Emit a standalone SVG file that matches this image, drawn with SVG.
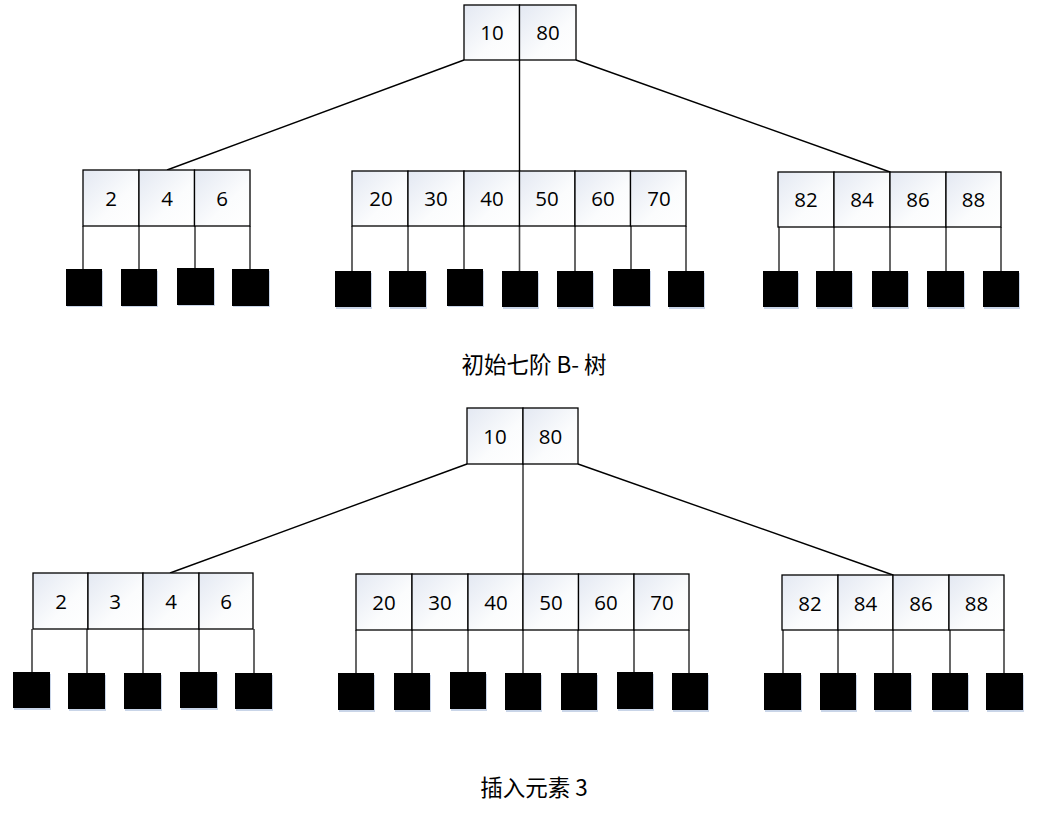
<svg xmlns="http://www.w3.org/2000/svg" width="1045" height="814" viewBox="0 0 1045 814">
<defs>
<linearGradient id="cg" x1="0" y1="0" x2="1" y2="1">
<stop offset="0" stop-color="#e3e8f2"/>
<stop offset="0.6" stop-color="#fbfcfd"/>
<stop offset="1" stop-color="#ffffff"/>
</linearGradient>
</defs>
<style>
.cell{fill:url(#cg);stroke:#000;stroke-width:1.3}
.num{font-family:"Open Sans","Liberation Sans",sans-serif;font-size:20.5px;fill:#000;text-anchor:middle}
.leaf{fill:#000}
.sh{fill:#c9d5e8}
.stem{stroke:#404040;stroke-width:1.6;fill:none}
.edge{stroke:#000;stroke-width:1.4;fill:none}
.cap{font-family:"Noto Sans CJK SC","Noto Sans",sans-serif;font-size:22.5px;fill:#000;text-anchor:middle}
</style>
<rect width="1045" height="814" fill="#fff"/>

<g id="connectors">
<line class="edge" x1="464" y1="60" x2="167" y2="170"/>
<line class="edge" x1="519.5" y1="60" x2="519.5" y2="171"/>
<line class="edge" x1="576" y1="60" x2="890" y2="172"/>
<line class="edge" x1="467" y1="464" x2="170" y2="573"/>
<line class="stem" x1="523" y1="464" x2="523" y2="574"/>
<line class="edge" x1="578" y1="464" x2="893" y2="575"/>
</g>

<!-- ===== Top tree ===== -->
<g id="root1">
<rect class="cell" x="464" y="5" width="55.5" height="55"/>
<rect class="cell" x="519.5" y="5" width="56.5" height="55"/>
<text class="num" x="492" y="39.5">10</text>
<text class="num" x="548" y="39.5">80</text>
</g>

<g id="left1">
<line class="stem" x1="83" y1="226" x2="83" y2="270"/>
<line class="stem" x1="139" y1="226" x2="139" y2="270"/>
<line class="stem" x1="195" y1="226" x2="195" y2="269"/>
<line class="stem" x1="250" y1="226" x2="250" y2="270"/>
<rect class="cell" x="83" y="170" width="56" height="56"/>
<rect class="cell" x="139" y="170" width="55.5" height="56"/>
<rect class="cell" x="194.5" y="170" width="55.5" height="56"/>
<text class="num" x="111" y="205.5">2</text>
<text class="num" x="167" y="205.5">4</text>
<text class="num" x="222" y="205.5">6</text>
<rect class="sh" x="67" y="271" width="36" height="36"/><rect class="leaf" x="66" y="269" width="36" height="37"/>
<rect class="sh" x="122" y="271" width="36" height="36"/><rect class="leaf" x="121" y="269" width="36" height="37"/>
<rect class="sh" x="178" y="270" width="37" height="36"/><rect class="leaf" x="177" y="268" width="37" height="37"/>
<rect class="sh" x="233" y="271" width="37" height="36"/><rect class="leaf" x="232" y="269" width="37" height="37"/>
</g>

<g id="mid1">
<line class="stem" x1="352" y1="226" x2="352" y2="271"/>
<line class="stem" x1="408" y1="226" x2="408" y2="271"/>
<line class="stem" x1="464" y1="226" x2="464" y2="269"/>
<line class="stem" x1="519.5" y1="226" x2="519.5" y2="271"/>
<line class="stem" x1="575" y1="226" x2="575" y2="271"/>
<line class="stem" x1="631" y1="226" x2="631" y2="269"/>
<line class="stem" x1="686" y1="226" x2="686" y2="271"/>
<rect class="cell" x="352" y="171" width="56" height="55"/>
<rect class="cell" x="408" y="171" width="56" height="55"/>
<rect class="cell" x="464" y="171" width="55.5" height="55"/>
<rect class="cell" x="519.5" y="171" width="55.5" height="55"/>
<rect class="cell" x="575" y="171" width="55.5" height="55"/>
<rect class="cell" x="630.5" y="171" width="55.5" height="55"/>
<text class="num" x="381" y="205.5">20</text>
<text class="num" x="436" y="205.5">30</text>
<text class="num" x="492" y="205.5">40</text>
<text class="num" x="547" y="205.5">50</text>
<text class="num" x="603" y="205.5">60</text>
<text class="num" x="659" y="205.5">70</text>
<rect class="sh" x="336" y="273" width="36" height="36"/><rect class="leaf" x="335" y="271" width="36" height="36"/>
<rect class="sh" x="390" y="273" width="37" height="36"/><rect class="leaf" x="389" y="271" width="37" height="36"/>
<rect class="sh" x="448" y="271" width="36" height="36"/><rect class="leaf" x="447" y="269" width="36" height="37"/>
<rect class="sh" x="503" y="273" width="36" height="36"/><rect class="leaf" x="502" y="271" width="36" height="36"/>
<rect class="sh" x="558" y="273" width="36" height="36"/><rect class="leaf" x="557" y="271" width="36" height="36"/>
<rect class="sh" x="614" y="271" width="37" height="36"/><rect class="leaf" x="613" y="269" width="37" height="37"/>
<rect class="sh" x="669" y="273" width="36" height="36"/><rect class="leaf" x="668" y="271" width="36" height="36"/>
</g>

<g id="right1">
<line class="stem" x1="779" y1="227" x2="779" y2="271"/>
<line class="stem" x1="834" y1="227" x2="834" y2="271"/>
<line class="stem" x1="890" y1="227" x2="890" y2="271"/>
<line class="stem" x1="946" y1="227" x2="946" y2="271"/>
<line class="stem" x1="1001" y1="227" x2="1001" y2="271"/>
<rect class="cell" x="778" y="172" width="56" height="55"/>
<rect class="cell" x="834" y="172" width="56" height="55"/>
<rect class="cell" x="890" y="172" width="56" height="55"/>
<rect class="cell" x="946" y="172" width="55" height="55"/>
<text class="num" x="806" y="206.5">82</text>
<text class="num" x="862" y="206.5">84</text>
<text class="num" x="918" y="206.5">86</text>
<text class="num" x="973.5" y="206.5">88</text>
<rect class="sh" x="764" y="273" width="35" height="36"/><rect class="leaf" x="763" y="271" width="35" height="36"/>
<rect class="sh" x="817" y="273" width="36" height="36"/><rect class="leaf" x="816" y="271" width="36" height="36"/>
<rect class="sh" x="873" y="273" width="36" height="36"/><rect class="leaf" x="872" y="271" width="36" height="36"/>
<rect class="sh" x="928" y="273" width="37" height="36"/><rect class="leaf" x="927" y="271" width="37" height="36"/>
<rect class="sh" x="984" y="273" width="36" height="36"/><rect class="leaf" x="983" y="271" width="36" height="36"/>
</g>

<text id="caption1" class="cap" x="534" y="373">初始七阶 B- 树</text>

<!-- ===== Bottom tree ===== -->
<g id="root2">
<rect class="cell" x="467" y="408" width="56" height="56"/>
<rect class="cell" x="523" y="408" width="55" height="56"/>
<text class="num" x="495" y="443.5">10</text>
<text class="num" x="550.5" y="443.5">80</text>
</g>

<g id="left2">
<line class="stem" x1="32" y1="629" x2="32" y2="672"/>
<line class="stem" x1="87" y1="629" x2="87" y2="673"/>
<line class="stem" x1="143" y1="629" x2="143" y2="673"/>
<line class="stem" x1="199" y1="629" x2="199" y2="672"/>
<line class="stem" x1="254" y1="629" x2="254" y2="673"/>
<rect class="cell" x="33" y="573" width="55" height="56"/>
<rect class="cell" x="88" y="573" width="55" height="56"/>
<rect class="cell" x="143" y="573" width="56" height="56"/>
<rect class="cell" x="199" y="573" width="54" height="56"/>
<text class="num" x="61" y="608.5">2</text>
<text class="num" x="115" y="608.5">3</text>
<text class="num" x="171" y="608.5">4</text>
<text class="num" x="226" y="608.5">6</text>
<rect class="sh" x="14" y="674" width="37" height="36"/><rect class="leaf" x="13" y="672" width="37" height="36"/>
<rect class="sh" x="69" y="675" width="37" height="36"/><rect class="leaf" x="68" y="673" width="37" height="36"/>
<rect class="sh" x="125" y="675" width="37" height="36"/><rect class="leaf" x="124" y="673" width="37" height="36"/>
<rect class="sh" x="181" y="674" width="37" height="36"/><rect class="leaf" x="180" y="672" width="37" height="36"/>
<rect class="sh" x="236" y="675" width="37" height="36"/><rect class="leaf" x="235" y="673" width="37" height="36"/>
</g>

<g id="mid2">
<line class="stem" x1="356" y1="630" x2="356" y2="673"/>
<line class="stem" x1="412" y1="630" x2="412" y2="673"/>
<line class="stem" x1="468" y1="630" x2="468" y2="672"/>
<line class="stem" x1="523" y1="630" x2="523" y2="673"/>
<line class="stem" x1="578" y1="630" x2="578" y2="673"/>
<line class="stem" x1="634" y1="630" x2="634" y2="672"/>
<line class="stem" x1="689" y1="630" x2="689" y2="673"/>
<rect class="cell" x="356" y="574" width="56" height="56"/>
<rect class="cell" x="412" y="574" width="56" height="56"/>
<rect class="cell" x="468" y="574" width="55" height="56"/>
<rect class="cell" x="523" y="574" width="55.5" height="56"/>
<rect class="cell" x="578.5" y="574" width="55.5" height="56"/>
<rect class="cell" x="634" y="574" width="55" height="56"/>
<text class="num" x="384" y="609.5">20</text>
<text class="num" x="440" y="609.5">30</text>
<text class="num" x="496" y="609.5">40</text>
<text class="num" x="551" y="609.5">50</text>
<text class="num" x="606" y="609.5">60</text>
<text class="num" x="662" y="609.5">70</text>
<rect class="sh" x="339" y="675" width="36" height="37"/><rect class="leaf" x="338" y="673" width="36" height="37"/>
<rect class="sh" x="395" y="675" width="36" height="37"/><rect class="leaf" x="394" y="673" width="36" height="37"/>
<rect class="sh" x="451" y="674" width="36" height="37"/><rect class="leaf" x="450" y="672" width="36" height="37"/>
<rect class="sh" x="506" y="675" width="36" height="37"/><rect class="leaf" x="505" y="673" width="36" height="37"/>
<rect class="sh" x="562" y="675" width="36" height="37"/><rect class="leaf" x="561" y="673" width="36" height="37"/>
<rect class="sh" x="618" y="674" width="36" height="37"/><rect class="leaf" x="617" y="672" width="36" height="37"/>
<rect class="sh" x="673" y="675" width="36" height="37"/><rect class="leaf" x="672" y="673" width="36" height="37"/>
</g>

<g id="right2">
<line class="stem" x1="783" y1="630" x2="783" y2="674"/>
<line class="stem" x1="838" y1="630" x2="838" y2="674"/>
<line class="stem" x1="893" y1="630" x2="893" y2="674"/>
<line class="stem" x1="950" y1="630" x2="950" y2="674"/>
<line class="stem" x1="1004" y1="630" x2="1004" y2="674"/>
<rect class="cell" x="782" y="575" width="56" height="55"/>
<rect class="cell" x="838" y="575" width="55" height="55"/>
<rect class="cell" x="893" y="575" width="56" height="55"/>
<rect class="cell" x="949" y="575" width="55" height="55"/>
<text class="num" x="810" y="610.5">82</text>
<text class="num" x="865.5" y="610.5">84</text>
<text class="num" x="921" y="610.5">86</text>
<text class="num" x="976.5" y="610.5">88</text>
<rect class="sh" x="765" y="675" width="37" height="37"/><rect class="leaf" x="764" y="673" width="37" height="37"/>
<rect class="sh" x="821" y="675" width="36" height="37"/><rect class="leaf" x="820" y="673" width="36" height="37"/>
<rect class="sh" x="875" y="675" width="37" height="37"/><rect class="leaf" x="874" y="673" width="37" height="37"/>
<rect class="sh" x="933" y="675" width="36" height="37"/><rect class="leaf" x="932" y="673" width="36" height="37"/>
<rect class="sh" x="987" y="675" width="37" height="37"/><rect class="leaf" x="986" y="673" width="37" height="37"/>
</g>

<text id="caption2" class="cap" x="534" y="796">插入元素 3</text>
</svg>
